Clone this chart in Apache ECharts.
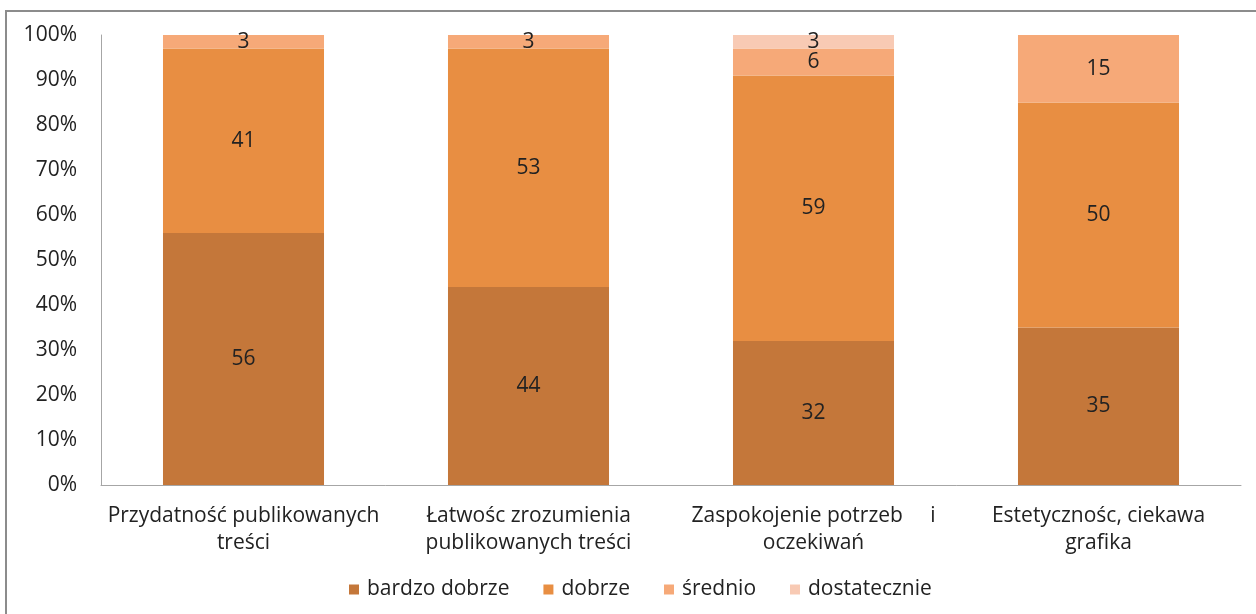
<!DOCTYPE html>
<html>
<head>
<meta charset="utf-8">
<script src="https://cdn.jsdelivr.net/npm/echarts@6/dist/echarts.min.js"></script>
<style>
html,body{margin:0;padding:0;background:#fff;}
#c{width:1256px;height:614px;}
</style>
</head>
<body>
<div id="c"></div>
<script>
const categories = [
  'Przydatność publikowanych\ntreści',
  'Łatwośc zrozumienia\npublikowanych treści',
  'Zaspokojenie potrzeb     i\noczekiwań',
  'Estetycznośc, ciekawa\ngrafika'
];
const seriesNames = ['bardzo dobrze', 'dobrze', 'średnio', 'dostatecznie'];
const bardzoDobrze = [56, 44, 32, 35];
const dobrze = [41, 53, 59, 50];
const srednio = [3, 3, 6, 15];
const dostatecznie = [0, 0, 3, 0];
const yTicks = [0, 10, 20, 30, 40, 50, 60, 70, 80, 90, 100];

const colors = ['#C4773A', '#E88E42', '#F6A978', '#F8CAB4'];
const font = '"Open Sans", "Noto Sans", sans-serif';
const fs = 21;
const allData = [bardzoDobrze, dobrze, srednio, dostatecznie];

const chart = echarts.init(document.getElementById('c'), null, {renderer: 'canvas'});
chart.setOption({
  animation: false,
  backgroundColor: '#fff',
  textStyle: {fontFamily: font},
  grid: {left: 101, right: 15, top: 35, bottom: 129, containLabel: false},
  legend: {
    bottom: 9,
    left: 344,
    itemWidth: 10,
    itemHeight: 10,
    itemGap: 34,
    icon: 'rect',
    textStyle: {fontSize: fs, color: '#222', fontFamily: font, padding: [0, 0, 0, 3]},
    data: seriesNames
  },
  xAxis: {
    type: 'category',
    data: categories,
    axisLine: {lineStyle: {color: '#a6a6a6', width: 1}},
    axisTick: {show: false},
    axisLabel: {fontSize: fs, color: '#222', fontFamily: font, lineHeight: 27, margin: 18, interval: 0}
  },
  yAxis: {
    type: 'value',
    min: 0, max: 100, interval: 10,
    axisLine: {show: true, lineStyle: {color: '#a6a6a6', width: 1}},
    axisTick: {show: false},
    splitLine: {show: false},
    axisLabel: {fontSize: fs, color: '#222', fontFamily: font, margin: 24,
      formatter: v => yTicks.includes(v) ? v + '%' : ''}
  },
  series: seriesNames.map((n, i) => ({
    name: n,
    type: 'bar',
    stack: 'total',
    barWidth: '56.5%',
    data: allData[i],
    itemStyle: {color: colors[i]},
    label: {
      show: true,
      position: 'inside',
      fontSize: fs,
      color: '#222',
      fontFamily: font,
      formatter: p => p.value > 0 ? String(p.value) : ''
    }
  })),
  graphic: [
    {type: 'line', shape: {x1: 5, y1: 11, x2: 1256, y2: 11}, style: {stroke: '#8c8c8c', lineWidth: 2}},
    {type: 'line', shape: {x1: 6, y1: 10, x2: 6, y2: 614}, style: {stroke: '#8c8c8c', lineWidth: 2}}
  ]
});
</script>
</body>
</html>
